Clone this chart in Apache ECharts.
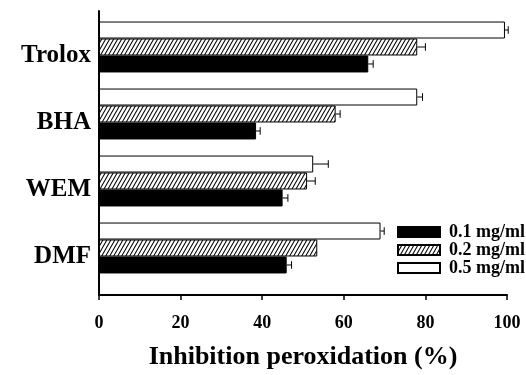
<!DOCTYPE html>
<html>
<head>
<meta charset="utf-8">
<script src="https://cdn.jsdelivr.net/npm/echarts@6/dist/echarts.min.js"></script>
<style>html,body{margin:0;padding:0;background:#fff}#c{width:526px;height:375px}</style>
</head>
<body>
<div id="c"></div>
<script>
// ---- data ----
const categories = ['DMF', 'WEM', 'BHA', 'Trolox'];
const seriesNames = ['0.1 mg/ml', '0.2 mg/ml', '0.5 mg/ml'];
const v01 = [46, 45, 38.5, 66];
const v02 = [53.5, 51, 58, 78];
const v05 = [69, 52.5, 78, 99.5];
const e01 = [1.2, 1.3, 1.0, 1.2];
const e02 = [0, 2.0, 1.1, 2.0];
const e05 = [0.9, 3.7, 1.3, 0.8];
const xMin = 0, xMax = 100, xStep = 20;
const axisTitle = 'Inhibition peroxidation (%)';

const GAP = 0.24;
const FONT = '"Liberation Serif", "Times New Roman", serif';

// hatch pattern
function hatch() {
  const w = 4, h = 7;
  const c = document.createElement('canvas');
  c.width = w; c.height = h;
  const g = c.getContext('2d');
  g.fillStyle = '#fff'; g.fillRect(0, 0, w, h);
  g.strokeStyle = '#000'; g.lineWidth = 1.1;
  for (let k = -1; k <= 1; k++) {
    g.beginPath();
    g.moveTo(k * w - w, 2 * h);
    g.lineTo(k * w + 2 * w, -h);
    g.stroke();
  }
  return c;
}
const hatchFill = { image: hatch(), repetition: 'repeat' };

function barSeries(name, vals, fill) {
  return {
    name: name, type: 'bar', xAxisIndex: 1, yAxisIndex: 1,
    data: vals, barGap: '0%', barCategoryGap: (GAP * 100) + '%',
    itemStyle: { color: fill, borderColor: '#000', borderWidth: 1 },
    emphasis: { disabled: true }
  };
}
function errSeries(vals, errs, k) {
  return {
    type: 'custom', xAxisIndex: 1, yAxisIndex: 1, silent: true, z: 5,
    data: vals.map((v, i) => [v, i, errs[i]]),
    renderItem: function (params, api) {
      const v = api.value(0), i = api.value(1), e = api.value(2);
      if (!e) return null;
      const p0 = api.coord([v, i]);
      const p1 = api.coord([v + e, i]);
      const band = api.size([0, 1])[1];
      const bw = band * (1 - GAP) / 3;
      const y = p0[1] - (k - 1) * bw;
      const h = bw * 0.45;
      return {
        type: 'group', children: [
          { type: 'line', shape: { x1: p0[0], y1: y, x2: p1[0], y2: y }, style: { stroke: '#000', lineWidth: 1 } },
          { type: 'line', shape: { x1: p1[0], y1: y - h / 2, x2: p1[0], y2: y + h / 2 }, style: { stroke: '#000', lineWidth: 1 } }
        ]
      };
    }
  };
}

const chart = echarts.init(document.getElementById('c'), null, { renderer: 'canvas' });
chart.setOption({
  backgroundColor: '#fff',
  animation: false,
  grid: [
    { left: 99, right: 19, top: 11, bottom: 77 },
    { left: 99, right: 19, top: 13.5, bottom: 93.5 }
  ],
  legend: {
    data: seriesNames, orient: 'vertical', left: 397, top: 223,
    itemWidth: 42, itemHeight: 10, itemGap: 0, icon: 'rect',
    padding: 0,
    textStyle: { fontFamily: FONT, fontWeight: 'bold', fontSize: 18, color: '#000', lineHeight: 17.5, padding: [0, 0, 0, 4] },
    selectedMode: false
  },
  xAxis: [
    {
      gridIndex: 0, type: 'value', min: xMin, max: xMax, interval: xStep,
      axisLine: { show: true, lineStyle: { color: '#000', width: 2 } },
      axisTick: { show: true, length: 5, lineStyle: { color: '#000', width: 1.5 } },
      axisLabel: { fontFamily: FONT, fontWeight: 'bold', fontSize: 18, color: '#000', margin: 19 },
      splitLine: { show: false },
      name: axisTitle, nameLocation: 'middle', nameGap: 49,
      nameTextStyle: { fontFamily: FONT, fontWeight: 'bold', fontSize: 26, color: '#000' }
    },
    { gridIndex: 1, type: 'value', min: xMin, max: xMax, show: false }
  ],
  yAxis: [
    {
      gridIndex: 0, type: 'value',
      axisLine: { show: true, lineStyle: { color: '#000', width: 2 } },
      axisTick: { show: false }, axisLabel: { show: false }, splitLine: { show: false }
    },
    {
      gridIndex: 1, type: 'category', data: categories,
      axisLine: { show: false }, axisTick: { show: false },
      axisLabel: { fontFamily: FONT, fontWeight: 'bold', fontSize: 25, color: '#000', margin: 8, verticalAlign: 'top', lineHeight: 18 }
    }
  ],
  series: [
    barSeries(seriesNames[2], v05, '#fff'),
    barSeries(seriesNames[1], v02, hatchFill),
    barSeries(seriesNames[0], v01, '#000'),
    errSeries(v01, e01, 0),
    errSeries(v02, e02, 1),
    errSeries(v05, e05, 2)
  ]
});
</script>
</body>
</html>
